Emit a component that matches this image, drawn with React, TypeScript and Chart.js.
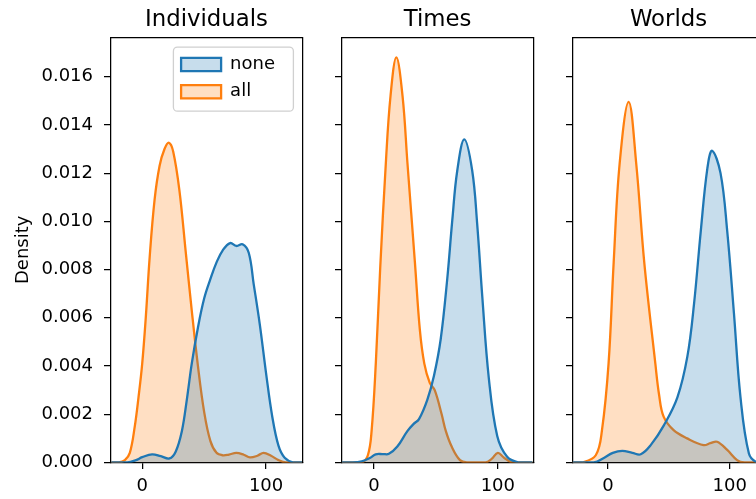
import React, { useEffect, useRef } from 'react';
import { Chart, registerables } from 'chart.js';

Chart.register(...registerables);

// ---------- data ----------
const panelTitles = ['Individuals', 'Times', 'Worlds'];
const seriesNames = ['none', 'all'];
const yTickValues = [0, 0.002, 0.004, 0.006, 0.008, 0.01, 0.012, 0.014, 0.016];
const xTickValues = [0, 100];
const yMax = 0.01764;
const xMins = [-25.6, -26.3, -29.1];
const xMaxs = [129.4, 128.8, 128.5];

// Individuals
const indNoneX = [-25, -12, -5, 0, 8, 15, 22, 27, 32, 36, 40, 45, 50, 55, 60, 65, 71, 76, 81, 86, 90, 95, 100, 105, 110, 115, 122, 129];
const indNoneY = [0, 0, 0.0001, 0.00022, 0.00034, 0.00026, 0.00017, 0.00045, 0.0013, 0.0026, 0.0041, 0.0056, 0.0068, 0.0076, 0.0083, 0.0088, 0.0091, 0.00898, 0.00905, 0.0087, 0.0074, 0.0057, 0.0037, 0.0019, 0.0007, 0.0002, 0, 0];
const indAllX = [-25, -19, -14, -10, -6, -3, 0, 3, 6, 10, 14, 18, 21.6, 25, 30, 35, 40, 45, 50, 55, 60, 65, 70, 76, 82, 87, 93, 98, 104, 110, 116, 129];
const indAllY = [0, 0, 0.0001, 0.0004, 0.0015, 0.0027, 0.0041, 0.0061, 0.0085, 0.0109, 0.0123, 0.013, 0.01326, 0.0129, 0.0113, 0.0088, 0.0063, 0.004, 0.0021, 0.0009, 0.0004, 0.0003, 0.00033, 0.0004, 0.00032, 0.00021, 0.00028, 0.0004, 0.00028, 0.0001, 0, 0];

// Times
const timNoneX = [-26, -20, -10, -3, 1.3, 7, 12, 18.8, 26.9, 32, 36.3, 43, 48.4, 53.8, 59.1, 63.2, 67.2, 72.9, 79.3, 83.3, 87.4, 92.7, 99.5, 107.5, 117, 128];
const timNoneY = [0, 0, 0.00005, 0.0002, 0.00034, 0.00035, 0.00036, 0.00066, 0.0013, 0.0016, 0.0018, 0.0026, 0.0036, 0.0051, 0.0076, 0.01005, 0.0121, 0.0134, 0.0121, 0.0099, 0.0069, 0.0035, 0.0011, 0.00024, 0, 0];
const timAllX = [-26, -10, -5, -2, 1.4, 5, 9.5, 13.3, 18, 23, 27, 33, 37, 40.6, 45, 49, 54.6, 58, 62.7, 69.4, 75, 90, 95, 100, 105, 112, 128];
const timAllY = [0, 0, 0.0003, 0.0013, 0.0041, 0.0081, 0.0124, 0.0152, 0.0168, 0.0152, 0.0124, 0.0083, 0.0055, 0.0041, 0.0033, 0.003, 0.002, 0.0013, 0.00066, 0.0001, 0, 0, 0.00015, 0.0004, 0.0002, 0, 0];

// Worlds
const worNoneX = [-29, -11.5, -3, 4, 11.8, 20, 26.9, 35.1, 46, 57, 65.2, 70.7, 76.2, 81.6, 85.5, 92.4, 97.9, 103.4, 108.8, 115.7, 122, 128];
const worNoneY = [0, 0, 0.0002, 0.0004, 0.00048, 0.0004, 0.00034, 0.00072, 0.00155, 0.0027, 0.0044, 0.0066, 0.0096, 0.0122, 0.01293, 0.012, 0.0096, 0.0062, 0.0027, 0.00037, 0, 0];
const worAllX = [-29, -21.4, -10, -4.9, 0.5, 4.7, 9.6, 17, 23.2, 29.8, 38.9, 42, 45.7, 53.9, 65, 78.6, 84, 89.6, 97.9, 106, 112, 128];
const worAllY = [0, 0, 0.0003, 0.00134, 0.0041, 0.0083, 0.0124, 0.01496, 0.0124, 0.0083, 0.0041, 0.0028, 0.0019, 0.00134, 0.001, 0.00072, 0.0008, 0.00086, 0.00052, 0.0001, 0, 0];

const panelSeries = [
  [[indNoneX, indNoneY], [indAllX, indAllY]],
  [[timNoneX, timNoneY], [timAllX, timAllY]],
  [[worNoneX, worNoneY], [worAllX, worAllY]],
];

// ---------- style / layout ----------
const FONT = "'DejaVu Sans', sans-serif";
const BLUE = '#1f77b4';
const ORANGE = '#ff7f0e';
const FILLS = ['rgba(31,119,180,0.25)', 'rgba(255,127,14,0.25)'];
const LINES = [BLUE, ORANGE];

const panelLayout = [
  { left: 0, width: 320, axisW: 110.5, padRight: 17.5 },
  { left: 320, width: 240, axisW: 21.5, padRight: 26.5 },
  { left: 560, width: 220, axisW: 12.5, padRight: 15.5 },
];

const legendPlacer = {
  id: 'legendPlacer',
  afterLayout(chart: any) {
    const lg = chart.legend;
    if (!lg || !chart.options.plugins.legend.display) return;
    const ca = chart.chartArea;
    const w = lg.width;
    lg.left = ca.right - 130.7;
    lg.right = lg.left + w;
    lg.top = ca.top + 9;
    lg.bottom = ca.bottom;
  },
  beforeDraw(chart: any) {
    const lg = chart.legend;
    if (!lg || !chart.options.plugins.legend.display) return;
    const ctx = chart.ctx;
    const x = lg.left + 1.6;
    const y = lg.top + 1;
    const w = 120;
    const h = 64;
    const r = 4;
    ctx.save();
    ctx.beginPath();
    ctx.moveTo(x + r, y);
    ctx.lineTo(x + w - r, y);
    ctx.arcTo(x + w, y, x + w, y + r, r);
    ctx.lineTo(x + w, y + h - r);
    ctx.arcTo(x + w, y + h, x + w - r, y + h, r);
    ctx.lineTo(x + r, y + h);
    ctx.arcTo(x, y + h, x, y + h - r, r);
    ctx.lineTo(x, y + r);
    ctx.arcTo(x, y, x + r, y, r);
    ctx.closePath();
    ctx.fillStyle = 'rgba(255,255,255,0.8)';
    ctx.fill();
    ctx.strokeStyle = '#d0d0d0';
    ctx.lineWidth = 1.3;
    ctx.stroke();
    ctx.restore();
  },
};

function Panel({ idx }: { idx: number }) {
  const ref = useRef<HTMLCanvasElement>(null);
  const lay = panelLayout[idx];
  useEffect(() => {
    const datasets = panelSeries[idx].map(([xs, ys], s) => ({
      label: seriesNames[s],
      data: xs.map((x, i) => ({ x, y: ys[i] })),
      borderColor: LINES[s],
      backgroundColor: FILLS[s],
      fill: 'origin',
      borderWidth: 2.3,
      pointRadius: 0,
      tension: 0.38,
    }));
    const tickFont = { family: FONT, size: 18 };
    const chart = new Chart(ref.current!, {
      type: 'line',
      data: { datasets },
      plugins: [legendPlacer],
      options: {
        animation: false,
        responsive: false,
        devicePixelRatio: 1,
        layout: { padding: { left: 0, right: lay.padRight, top: 0, bottom: 0 } },
        plugins: {
          title: {
            display: true,
            text: panelTitles[idx],
            fullSize: false,
            color: '#000',
            font: { family: FONT, size: 22.8, weight: 'normal' },
            padding: { top: 6, bottom: 3.8 },
          },
          legend: {
            display: idx === 0,
            position: 'chartArea',
            align: 'start',
            labels: {
              boxWidth: 40,
              boxHeight: 13.3,
              padding: 9.3,
              color: '#000',
              font: { family: FONT, size: 18 },
            },
          },
          tooltip: { enabled: false },
        },
        scales: {
          x: {
            type: 'linear',
            position: 'bottom',
            min: xMins[idx],
            max: xMaxs[idx],
            afterBuildTicks: (s: any) => {
              s.ticks = xTickValues.map((v) => ({ value: v }));
            },
            ticks: {
              color: '#000',
              font: tickFont,
              padding: 7,
              maxRotation: 0,
              autoSkip: false,
              callback: (v: any) => String(v),
            },
            grid: { display: true, drawOnChartArea: false, drawTicks: true, tickLength: 6.5, color: '#000', lineWidth: 1.25 },
            border: { display: true, color: '#000', width: 1.25 },
            afterFit: (s: any) => {
              s.height = 36.5;
            },
          },
          x2: {
            type: 'linear',
            position: 'top',
            min: xMins[idx],
            max: xMaxs[idx],
            ticks: { display: false },
            grid: { display: false, drawTicks: false },
            border: { display: true, color: '#000', width: 1.25 },
            afterFit: (s: any) => {
              s.height = 0;
            },
          },
          y: {
            type: 'linear',
            position: 'left',
            min: 0,
            max: yMax,
            afterBuildTicks: (s: any) => {
              s.ticks = yTickValues.map((v) => ({ value: v }));
            },
            ticks: {
              color: '#000',
              font: tickFont,
              padding: 11,
              autoSkip: false,
              callback: (v: any) => (idx === 0 ? Number(v).toFixed(3) : ''),
            },
            grid: { display: true, drawOnChartArea: false, drawTicks: true, tickLength: 6.5, color: '#000', lineWidth: 1.25 },
            border: { display: true, color: '#000', width: 1.25 },
            title: {
              display: idx === 0,
              text: 'Density',
              color: '#000',
              font: { family: FONT, size: 18 },
              padding: { top: 12.8, bottom: 0 },
            },
            afterFit: (s: any) => {
              s.width = lay.axisW;
            },
          },
          y2: {
            type: 'linear',
            position: 'right',
            min: 0,
            max: yMax,
            ticks: { display: false },
            grid: { display: false, drawTicks: false },
            border: { display: true, color: '#000', width: 1.25 },
            afterFit: (s: any) => {
              s.width = 0;
            },
          },
        },
      } as any,
    });
    return () => chart.destroy();
  }, [idx]);
  return (
    <div style={{ position: 'absolute', left: lay.left, top: 0, width: lay.width, height: 499 }}>
      <canvas ref={ref} width={lay.width} height={499} style={{ width: lay.width, height: 499, display: 'block' }} />
    </div>
  );
}

export default function App() {
  return (
    <div
      style={{
        position: 'fixed',
        left: 0,
        top: 0,
        width: 756,
        height: 499,
        overflow: 'hidden',
        background: '#fff',
      }}
    >
      {panelTitles.map((_, i) => (
        <Panel key={i} idx={i} />
      ))}
    </div>
  );
}
